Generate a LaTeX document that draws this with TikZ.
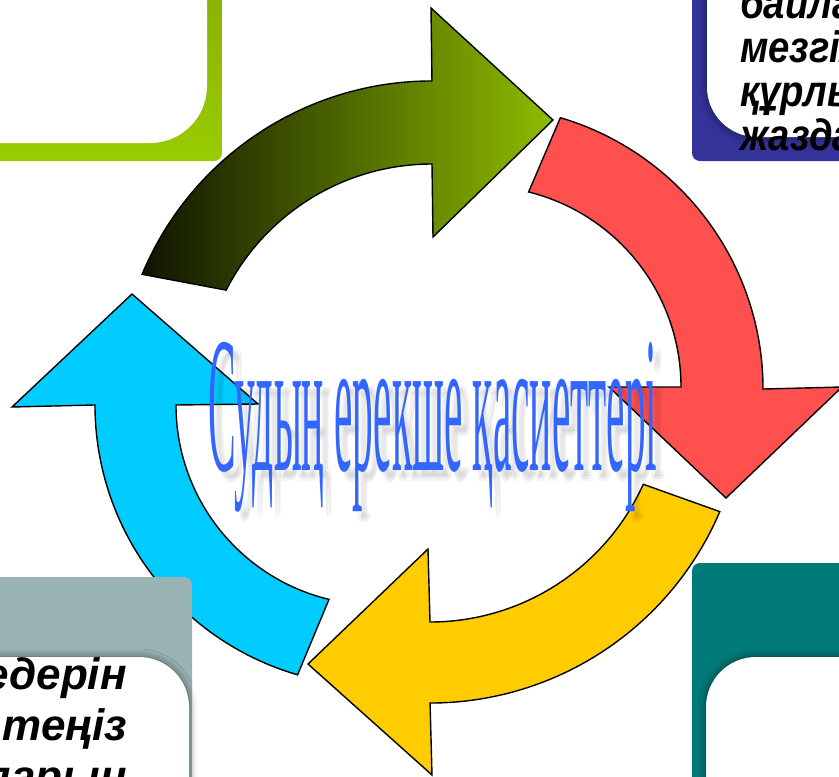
\documentclass[tikz,border=0pt]{standalone}
\usepackage{fontspec}
\usepackage{graphicx}
\setmainfont{Liberation Sans}
\newfontfamily\titlefont{Liberation Serif}
\usepackage{tikz}
\usetikzlibrary{shadows.blur}

\definecolor{greendark}{HTML}{0E1400}
\definecolor{greenlight}{HTML}{8FBC00}
\definecolor{arrowred}{HTML}{FF5050}
\definecolor{arrowyellow}{HTML}{FFCC00}
\definecolor{arrowblue}{HTML}{00CCFF}
\definecolor{titleblue}{HTML}{3366FF}
\definecolor{limeframe}{HTML}{99CC00}
\definecolor{limetop}{HTML}{88B000}
\definecolor{navyframe}{HTML}{333399}
\definecolor{slateframe}{HTML}{99B3B5}
\definecolor{tealframe}{HTML}{007B79}

\newcommand{\cycletitle}{\resizebox{449pt}{128pt}{\titlefont Судың ерекше қасиеттері}}
\newcommand{\narrowword}[1]{\scalebox{0.87}[1]{#1}}

\begin{document}
\begin{tikzpicture}[x=1pt, y=1pt,
		cyclearrow/.style={draw=black, line width=1.4pt, line join=miter},
		framebox/.style={rounded corners=8pt},
		whitebox/.style={fill=white, rounded corners=50pt},
		softedge/.style={blur shadow={shadow xshift=0pt, shadow yshift=0pt, shadow blur radius=8pt, shadow opacity=55}},
		boxtext/.style={inner sep=0pt, font=\fontsize{44}{44}\selectfont\bfseries\itshape},
		titletext/.style={inner sep=0pt, anchor=base west}
		]
	\useasboundingbox (0,0) rectangle (839,-777);
	\clip (0,0) rectangle (839,-777);

	\path[cyclearrow, left color=greendark, right color=greenlight]
		(142.1,-274.3) arc[start angle=157.4, end angle=90, radius=314]
		-- (431,-8) -- (553,-120) -- (433,-237) -- (432,-164)
		arc[start angle=90, end angle=153, radius=231] -- cycle;
	\draw[cyclearrow, fill=arrowred]
		(560.4,-117.7) arc[start angle=73.5, end angle=0, radius=283]
		-- (842,-387) -- (726,-498) -- (609,-387) -- (681,-387)
		arc[start angle=0, end angle=76, radius=201] -- cycle;
	\draw[cyclearrow, fill=arrowyellow]
		(719.8,-511.6) arc[start angle=-23.1, end angle=-90, radius=315]
		-- (432,-775) -- (308,-664) -- (428,-549) -- (430,-622)
		arc[start angle=-90, end angle=-24.3, radius=234] -- cycle;
	\draw[cyclearrow, fill=arrowblue]
		(297.6,-674.8) arc[start angle=253.8, end angle=180, radius=281]
		-- (12,-407) -- (132,-294) -- (258,-404) -- (176,-405)
		arc[start angle=180, end angle=256.4, radius=200] -- cycle;

	\shade[framebox, top color=limetop, bottom color=limeframe] (-20,20) rectangle (222,-161);
	\fill[whitebox, rounded corners=57pt] (-60,60) rectangle (207,-143);

	\fill[framebox, navyframe] (692,20) rectangle (860,-161);
	\fill[whitebox, softedge] (707,60) rectangle (900,-137);

	\fill[framebox, slateframe] (-20,-577) rectangle (192,-850);
	\fill[whitebox, softedge] (-60,-657) rectangle (189,-900);

	\fill[framebox, tealframe] (692,-563) rectangle (860,-850);
	\fill[whitebox, softedge] (706,-657) rectangle (900,-900);

	\foreach \w [count=\i] in {байла,мезгіл,құрлы,жазда}
		\node[boxtext, anchor=base west] (tr\i) at (740,{-18-44.3*(\i-1)}) {\narrowword{\w}};
	\foreach \w [count=\i] in {едерін,теңіз,ларын}
		\node[boxtext, anchor=base east] (bl\i) at (127,{-689-51*(\i-1)}) {\w};

	\foreach \dx/\dy in {5/7,8/9,6/11,9/6}
		\node[titletext, text=black, opacity=0.04] at (208+\dx,-470-\dy) {\cycletitle};
	\node[titletext, text=titleblue] (title) at (208,-470) {\cycletitle};
\end{tikzpicture}
\end{document}
